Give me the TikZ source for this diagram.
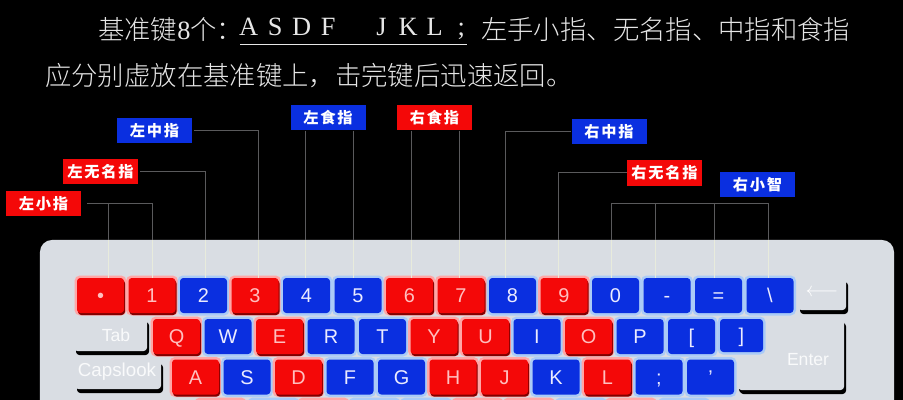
\documentclass[tikz,border=0pt]{standalone}
\usepackage{fontspec}
\usetikzlibrary{shadows}
\setmainfont{Liberation Sans}
\newfontfamily\cjk{Noto Sans CJK SC Light}
\newfontfamily\cjktag{Noto Sans CJK SC}[LetterSpace=12]
\newfontfamily\romanfont{Liberation Serif}
\newcommand{\slot}[1]{\makebox[0.798cm]{#1}}
\definecolor{keyred}{HTML}{F40808}
\definecolor{keyblue}{HTML}{0A2FE0}
\definecolor{halored}{HTML}{FFA6A6}
\definecolor{haloblue}{HTML}{AACBF7}
\definecolor{boardgray}{HTML}{D9DDE3}
\definecolor{guidegray}{HTML}{5A5A5C}
\definecolor{guidepale}{HTML}{E8EBDC}
\definecolor{textgray}{HTML}{E6E6E6}

\begin{document}
\begin{tikzpicture}[x=0.03cm, y=-0.03cm,
    main key/.style={rectangle,rounded corners=0.1cm,minimum width=1.41cm,minimum height=1.05cm,inner sep=0pt,text height=0.42cm,text depth=0pt,font=\fontsize{17}{17}\selectfont},
    red key/.style={main key,fill=keyred,text=red!25!white,preaction={draw=halored,line width=0.15cm},general shadow={fill=red!50!black,shadow xshift=0.03cm,shadow yshift=-0.06cm}},
    blue key/.style={main key,fill=keyblue,text=blue!8!white,preaction={draw=haloblue,line width=0.15cm}},
    gray key/.style={rounded corners=0.1cm,fill=boardgray,general shadow={fill=black,shadow xshift=0.06cm,shadow yshift=-0.12cm}},
    gray label/.style={inner sep=0pt,text=white!85!boardgray,font=\fontsize{15}{15}\selectfont},
    red tag/.style={rectangle,fill=keyred,text=white,minimum width=2.25cm,minimum height=0.77cm,inner sep=0pt,font=\cjktag\bfseries\fontsize{13}{13}\selectfont},
    blue tag/.style={red tag,fill=keyblue},
    line text/.style={inner sep=0pt,anchor=west,text=textgray,minimum height=0.9cm,font=\cjk\fontsize{22.5}{22.5}\selectfont},
    guide/.style={draw=guidegray,line width=0.03cm},
    pale guide/.style={draw=guidepale,line width=0.03cm}]

    \useasboundingbox (0, 0) rectangle (903, 400);
    \clip (0, 0) rectangle (903, 400);
    \fill[black] (0, 0) rectangle (903, 400);

    \node[line text] at (98, 29) (head) {基准键{\romanfont 8}个\char"FF1A};
    \node[line text, font=\romanfont\fontsize{22.5}{22.5}\selectfont] at (235, 29) (home) {\slot{A}\slot{S}\slot{D}\slot{F}\slot{}\slot{J}\slot{K}\slot{L}\slot{;}};
    \node[line text] at (481, 29) (hands) {左手小指、无名指、中指和食指};
    \node[line text] at (45, 76) (second) {应分别虚放在基准键上\char"FF0C 击完键后迅速返回。};
    \draw[draw=textgray, line width=0.04cm] ([xshift=0.15cm]home.south west) -- ([xshift=-0.24cm]home.south east);

    \node[fill=boardgray, rounded corners=0.36cm, minimum width=25.62cm, minimum height=7.2cm, inner sep=0pt] at (467, 360) (board) {};

    \node[red key] at (100.5, 295.5) (keytick) {\textbullet};
    \node[red key] at (152, 295.5) (key1) {1};
    \node[blue key] at (203.5, 295.5) (key2) {2};
    \node[red key] at (255, 295.5) (key3) {3};
    \node[blue key] at (306.5, 295.5) (key4) {4};
    \node[blue key] at (358, 295.5) (key5) {5};
    \node[red key] at (409.5, 295.5) (key6) {6};
    \node[red key] at (461, 295.5) (key7) {7};
    \node[blue key] at (512.5, 295.5) (key8) {8};
    \node[red key] at (564, 295.5) (key9) {9};
    \node[blue key] at (615.5, 295.5) (key0) {0};
    \node[blue key] at (667, 295.5) (keyminus) {-};
    \node[blue key] at (718.5, 295.5) (keyequal) {=};
    \node[blue key] at (770, 295.5) (keyslash) {\textbackslash};

    \node[red key] at (176.5, 336.5) (keyQ) {Q};
    \node[blue key] at (228, 336.5) (keyW) {W};
    \node[red key] at (279.5, 336.5) (keyE) {E};
    \node[blue key] at (331, 336.5) (keyR) {R};
    \node[blue key] at (382.5, 336.5) (keyT) {T};
    \node[red key] at (434, 336.5) (keyY) {Y};
    \node[red key] at (485.5, 336.5) (keyU) {U};
    \node[blue key] at (537, 336.5) (keyI) {I};
    \node[red key] at (588.5, 336.5) (keyO) {O};
    \node[blue key] at (640, 336.5) (keyP) {P};
    \node[blue key] at (691.5, 336.5) (keyopen) {[};
    \node[blue key, minimum width=1.29cm, minimum height=0.99cm] at (741.5, 335.5) (keyclose) {]};

    \node[red key] at (195.5, 377) (keyA) {A};
    \node[blue key] at (247, 377) (keyS) {S};
    \node[red key] at (298.5, 377) (keyD) {D};
    \node[blue key] at (350, 377) (keyF) {F};
    \node[blue key] at (401.5, 377) (keyG) {G};
    \node[red key] at (453, 377) (keyH) {H};
    \node[red key] at (504.5, 377) (keyJ) {J};
    \node[blue key] at (556, 377) (keyK) {K};
    \node[red key] at (607.5, 377) (keyL) {L};
    \node[blue key] at (659, 377) (keysemi) {;};
    \node[blue key] at (710.5, 377) (keyquote) {'};

    \node[red key] at (220.5, 417.5) (keyZ) {};
    \node[blue key] at (273.5, 417.5) (keyX) {};
    \node[red key] at (323.5, 417.5) (keyC) {};
    \node[blue key] at (374.5, 417.5) (keyV) {};
    \node[blue key] at (426, 417.5) (keyB) {};
    \node[red key] at (477.5, 417.5) (keyN) {};
    \node[red key] at (529, 417.5) (keyM) {};
    \node[blue key] at (581, 417.5) (keycomma) {};
    \node[red key] at (631, 417.5) (keydot) {};
    \node[blue key] at (684, 417.5) (keyquery) {};

    \path[gray key] (74, 318) rectangle (147, 351);
    \node[gray label] at (116, 335) (tab) {Tab};
    \path[gray key] (75, 360) rectangle (161, 389);
    \node[gray label, font=\fontsize{16}{16}\selectfont] at (117, 372) (caps) {Capslook};
    \path[gray key] (798, 278) rectangle (846, 310);
    \node[gray label, text=white, font=\bfseries\fontsize{17}{17}\selectfont] at (822, 293) (back) {$\longleftarrow$};
    \path[gray key, general shadow={fill=black,shadow xshift=0.03cm,shadow yshift=-0.09cm}] (772, 319) -- (844, 319) -- (844, 390) -- (738, 390) -- (738, 356) -- (772, 356) -- cycle;
    \node[gray label] at (808, 360) (enter) {Enter};

    \node[red tag] at (43.5, 203.5) (lpinky) {左小指};
    \node[red tag] at (100.5, 171.5) (lring) {左无名指};
    \node[blue tag] at (154.5, 130.5) (lmiddle) {左中指};
    \node[blue tag] at (328, 117.5) (lindex) {左食指};
    \node[red tag] at (434.5, 117.5) (rindex) {右食指};
    \node[blue tag] at (609, 131.5) (rmiddle) {右中指};
    \node[red tag] at (664.5, 173) (rring) {右无名指};
    \node[blue tag] at (757.5, 184.5) (rpinky) {右小智};

    \coordinate (foot1) at ([xshift=0.225cm]keytick.north);
    \coordinate (foot2) at (key1.north);
    \coordinate (foot3) at ([xshift=0.045cm]key2.north);
    \coordinate (foot4) at ([xshift=0.09cm]key3.north);
    \coordinate (foot5) at ([xshift=-0.045cm]key4.north);
    \coordinate (foot6) at ([xshift=-0.15cm]key5.north);
    \coordinate (foot7) at ([xshift=0.045cm]key6.north);
    \coordinate (foot8) at ([xshift=-0.06cm]key7.north);
    \coordinate (foot9) at ([xshift=-0.225cm]key8.north);
    \coordinate (foot10) at ([xshift=-0.18cm]key9.north);
    \coordinate (foot11) at ([xshift=-0.135cm]key0.north);
    \coordinate (foot12) at ([xshift=-0.36cm]keyminus.north);
    \coordinate (foot13) at ([xshift=-0.135cm]keyequal.north);
    \coordinate (foot14) at ([xshift=-0.06cm]keyslash.north);
    \coordinate (rbar) at ([yshift=-0.18cm]rpinky.south);

    \path[guide] ([xshift=0.18cm]lpinky.east) -| (foot2 |- board.north);
    \path[guide] (foot1 |- lpinky.east) -- (foot1 |- board.north);
    \path[guide] ([xshift=0.06cm]lring.east) -| (foot3 |- board.north);
    \path[guide] ([xshift=0.06cm]lmiddle.east) -| (foot4 |- board.north);
    \path[guide] (foot5 |- lindex.south) -- (foot5 |- board.north);
    \path[guide] (foot6 |- lindex.south) -- (foot6 |- board.north);
    \path[guide] (foot7 |- rindex.south) -- (foot7 |- board.north);
    \path[guide] (foot8 |- rindex.south) -- (foot8 |- board.north);
    \path[guide] (rmiddle.west) -| (foot9 |- board.north);
    \path[guide] (rring.west) -| (foot10 |- board.north);
    \path[guide] (foot11 |- board.north) |- (rbar) -| (foot14 |- board.north);
    \path[guide] (foot12 |- rbar) -- (foot12 |- board.north);
    \path[guide] (foot13 |- rbar) -- (foot13 |- board.north);

    \path[pale guide] (foot1) -- (foot1 |- board.north);
    \path[pale guide] (foot2) -- (foot2 |- board.north);
    \path[pale guide] (foot3) -- (foot3 |- board.north);
    \path[pale guide] (foot4) -- (foot4 |- board.north);
    \path[pale guide] (foot5) -- (foot5 |- board.north);
    \path[pale guide] (foot6) -- (foot6 |- board.north);
    \path[pale guide] (foot7) -- (foot7 |- board.north);
    \path[pale guide] (foot8) -- (foot8 |- board.north);
    \path[pale guide] (foot9) -- (foot9 |- board.north);
    \path[pale guide] (foot10) -- (foot10 |- board.north);
    \path[pale guide] (foot11) -- (foot11 |- board.north);
    \path[pale guide] (foot12) -- (foot12 |- board.north);
    \path[pale guide] (foot13) -- (foot13 |- board.north);
    \path[pale guide] (foot14) -- (foot14 |- board.north);

\end{tikzpicture}
\end{document}
